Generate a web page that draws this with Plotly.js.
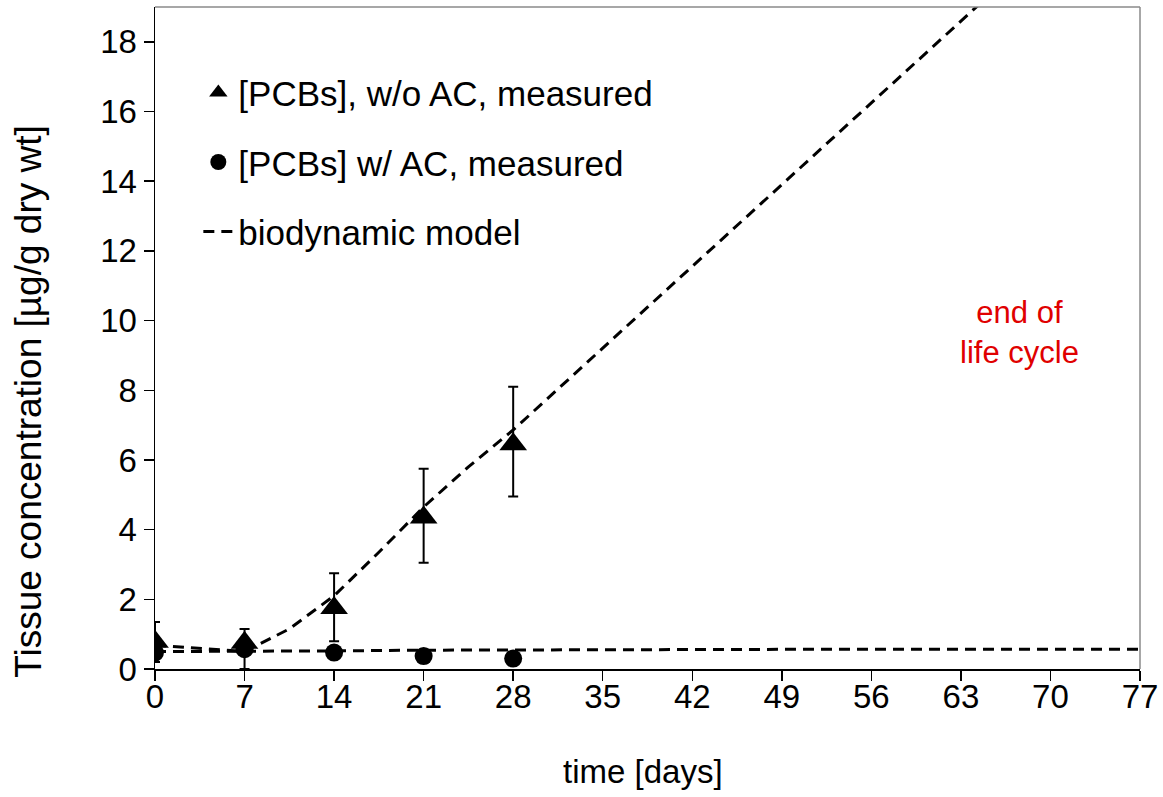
<!DOCTYPE html>
<html>
<head>
<meta charset="utf-8">
<script src="https://cdn.plot.ly/plotly-3.0.1.min.js"></script>
<style>html,body{margin:0;padding:0;background:#fff;}#chart{width:1163px;height:797px;}</style>
</head>
<body>
<div id="chart"></div>
<script>
// Measured data
var days = [0, 7, 14, 21, 28];
var woAC = [0.78, 0.75, 1.75, 4.35, 6.45];
var woAC_errUp = [0.57, 0.40, 1.00, 1.40, 1.65];
var woAC_errDown = [0.58, 0.75, 0.95, 1.30, 1.50];
var wAC = [0.47, 0.57, 0.47, 0.37, 0.30];
var wAC_err = [0.27, 0.10, 0.10, 0.18, 0.05];

// Biodynamic model curves
var modelDaysWo = [0, 3.5, 7, 10.5, 14, 17.5, 21, 24.5, 28, 35, 42, 49, 56, 63, 66];
var modelWo = [0.68, 0.58, 0.5, 1.15, 2.1, 3.35, 4.65, 5.8, 6.86, 9.21, 11.56, 13.91, 16.26, 18.61, 19.6];
var modelDaysW = [0, 7, 14, 21, 28, 35, 42, 49, 56, 63, 70, 77];
var modelW = [0.5, 0.5, 0.52, 0.54, 0.55, 0.56, 0.56, 0.57, 0.57, 0.57, 0.57, 0.57];

var xTicks = [0, 7, 14, 21, 28, 35, 42, 49, 56, 63, 70, 77];
var yTicks = [0, 2, 4, 6, 8, 10, 12, 14, 16, 18];

var FONT = 'Liberation Sans, Arial, sans-serif';
var dash = '11px,7px';

var traces = [
  {x: days, y: woAC, type: 'scatter', mode: 'markers', name: '[PCBs], w/o AC, measured',
   legendgroup: 'a',
   marker: {symbol: 'triangle-up', size: 24, color: '#000'},
   error_y: {type: 'data', symmetric: false, array: woAC_errUp, arrayminus: woAC_errDown,
             color: '#000', thickness: 2, width: 5}},
  {x: days, y: wAC, type: 'scatter', mode: 'markers', name: '[PCBs] w/ AC, measured',
   legendgroup: 'b',
   marker: {symbol: 'circle', size: 18, color: '#000'},
   error_y: {type: 'data', array: wAC_err, color: '#000', thickness: 2, width: 5}},
  {x: modelDaysWo, y: modelWo, type: 'scatter', mode: 'lines', name: 'biodynamic model',
   legendgroup: 'c',
   line: {color: '#000', width: 3, dash: dash}},
  {x: modelDaysW, y: modelW, type: 'scatter', mode: 'lines', name: 'biodynamic model w/ AC',
   showlegend: false, legendgroup: 'c',
   line: {color: '#000', width: 3, dash: dash}}
];

var layout = {
  width: 1163, height: 797,
  margin: {l: 155, r: 23, t: 7, b: 128},
  paper_bgcolor: '#fff', plot_bgcolor: '#fff',
  font: {family: FONT, color: '#000', size: 32},
  showlegend: true,
  legend: {x: 0.044, y: 0.915, xanchor: 'left', yanchor: 'top',
           bgcolor: 'rgba(0,0,0,0)', font: {size: 35, family: FONT},
           traceorder: 'grouped', tracegroupgap: 21, itemwidth: 30},
  xaxis: {range: [0, 77], tickvals: xTicks, ticktext: xTicks.map(String),
          ticks: 'outside', ticklen: 10, tickwidth: 1.5, tickcolor: '#000',
          showline: true, linecolor: '#000', linewidth: 1.5,
          showgrid: false, zeroline: false, ticklabelstandoff: -12,
          tickfont: {size: 33, family: FONT}},
  yaxis: {range: [0, 19], tickvals: yTicks, ticktext: yTicks.map(String),
          ticks: 'outside', ticklen: 10, tickwidth: 1.5, tickcolor: '#000',
          showline: true, linecolor: '#000', linewidth: 1.5,
          showgrid: false, zeroline: false,
          tickfont: {size: 33, family: FONT}},
  shapes: [
    {type: 'line', xref: 'paper', yref: 'paper', x0: 0, x1: 1, y0: 1, y1: 1,
     line: {color: '#8a8a8a', width: 1.5}},
    {type: 'line', xref: 'paper', yref: 'paper', x0: 1, x1: 1, y0: 0, y1: 1,
     line: {color: '#8a8a8a', width: 1.5}}
  ],
  annotations: [
    {text: 'end of<br>life cycle', xref: 'x', yref: 'y', x: 67.6, y: 9.65,
     showarrow: false, font: {color: '#e00000', size: 31, family: FONT}},
    {text: 'time [days]', xref: 'paper', yref: 'paper', x: 0.495, y: -0.155,
     xanchor: 'center', yanchor: 'middle', showarrow: false,
     font: {size: 33, family: FONT}},
    {text: 'Tissue concentration [µg/g dry wt]', xref: 'paper', yref: 'paper',
     x: -0.128, y: 0.405, xanchor: 'center', yanchor: 'middle', textangle: -90,
     showarrow: false, font: {size: 37, family: FONT}}
  ]
};

Plotly.newPlot('chart', traces, layout, {displayModeBar: false, staticPlot: true});
</script>
</body>
</html>
